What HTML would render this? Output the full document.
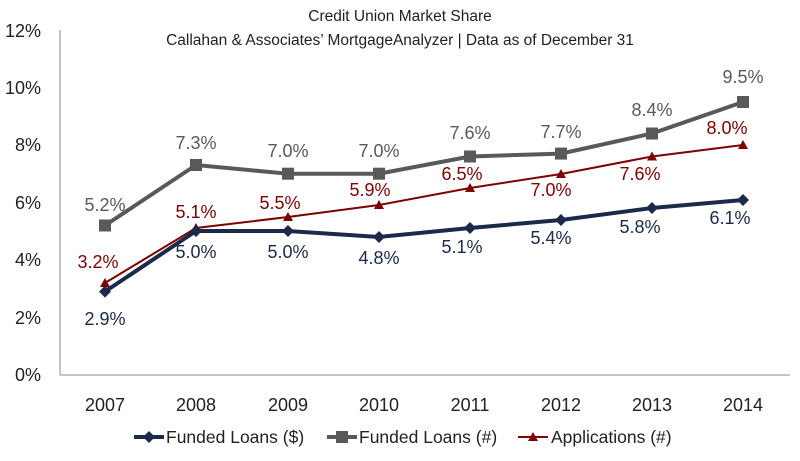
<!DOCTYPE html>
<html><head><meta charset="utf-8"><style>
body{margin:0;background:#fff;}
svg text{font-family:"Liberation Sans",sans-serif;}
</style></head><body>
<svg width="800" height="456" viewBox="0 0 800 456" xmlns="http://www.w3.org/2000/svg">
<rect width="800" height="456" fill="#fff"/>
<text x="400" y="21" font-size="15.5" text-anchor="middle" fill="#222">Credit Union Market Share</text>
<text x="400" y="45" font-size="15.5" text-anchor="middle" fill="#222">Callahan &amp; Associates’ MortgageAnalyzer  |  Data as of December 31</text>
<g font-size="18" fill="#222" text-anchor="end">
<text x="41" y="37">12%</text><text x="41" y="94">10%</text><text x="41" y="151">8%</text>
<text x="41" y="209">6%</text><text x="41" y="266">4%</text><text x="41" y="324">2%</text><text x="41" y="381">0%</text>
</g>
<line x1="60" y1="30" x2="60" y2="375" stroke="#888" stroke-width="1"/>
<line x1="60" y1="375" x2="790" y2="375" stroke="#888" stroke-width="1"/>
<g font-size="18" fill="#222" text-anchor="middle">
<text x="105" y="411">2007</text><text x="196" y="411">2008</text><text x="288" y="411">2009</text><text x="379" y="411">2010</text>
<text x="470" y="411">2011</text><text x="561" y="411">2012</text><text x="652" y="411">2013</text><text x="743" y="411">2014</text>
</g>
<!-- Funded # -->
<polyline fill="none" stroke="#595959" stroke-width="4" points="105,225.5 196,165 288,173.7 379,173.7 470,156.5 561,153.6 652,133.5 743,102"/>
<g fill="#595959">
<rect x="99" y="219.5" width="12" height="12"/><rect x="190" y="159" width="12" height="12"/><rect x="282" y="167.7" width="12" height="12"/><rect x="373" y="167.7" width="12" height="12"/>
<rect x="464" y="150.5" width="12" height="12"/><rect x="555" y="147.6" width="12" height="12"/><rect x="646" y="127.5" width="12" height="12"/><rect x="737" y="96" width="12" height="12"/>
</g>
<g font-size="18" fill="#595959" text-anchor="middle">
<text x="105" y="211">5.2%</text><text x="196" y="149">7.3%</text><text x="288" y="157">7.0%</text><text x="379" y="157">7.0%</text>
<text x="470" y="139">7.6%</text><text x="561" y="138">7.7%</text><text x="652" y="116">8.4%</text><text x="743" y="83">9.5%</text>
</g>
<!-- Applications -->
<polyline fill="none" stroke="#7f0000" stroke-width="2" points="105,283 196,228 288,217 379,205 470,188 561,174 652,156.5 743,145"/>
<g fill="#7f0000">
<polygon points="105,278 110,287 100,287"/><polygon points="196,223 201,232 191,232"/><polygon points="288,212 293,221 283,221"/><polygon points="379,200 384,209 374,209"/>
<polygon points="470,183 475,192 465,192"/><polygon points="561,169 566,178 556,178"/><polygon points="652,151.5 657,160.5 647,160.5"/><polygon points="743,140 748,149 738,149"/>
</g>
<g font-size="18" fill="#7f0000" text-anchor="middle">
<text x="98" y="268">3.2%</text><text x="196" y="218">5.1%</text><text x="280" y="209">5.5%</text><text x="370" y="196">5.9%</text>
<text x="462" y="180">6.5%</text><text x="551" y="196">7.0%</text><text x="640" y="180">7.6%</text><text x="727" y="134">8.0%</text>
</g>
<!-- Funded $ -->
<polyline fill="none" stroke="#1b2a4a" stroke-width="4" points="105,291.6 196,231 288,231 379,237 470,228 561,220 652,208 743,200"/>
<g fill="#1b2a4a">
<polygon points="105,285.6 111,291.6 105,297.6 99,291.6"/><polygon points="196,225 202,231 196,237 190,231"/><polygon points="288,225 294,231 288,237 282,231"/><polygon points="379,231 385,237 379,243 373,237"/>
<polygon points="470,222 476,228 470,234 464,228"/><polygon points="561,214 567,220 561,226 555,220"/><polygon points="652,202 658,208 652,214 646,208"/><polygon points="743,194 749,200 743,206 737,200"/>
</g>
<g font-size="18" fill="#1b2a4a" text-anchor="middle">
<text x="105" y="325">2.9%</text><text x="196" y="258">5.0%</text><text x="288" y="258">5.0%</text><text x="379" y="264">4.8%</text>
<text x="462" y="253">5.1%</text><text x="551" y="244">5.4%</text><text x="640" y="233">5.8%</text><text x="730" y="224">6.1%</text>
</g>
<!-- Legend -->
<line x1="134" y1="437" x2="164" y2="437" stroke="#1b2a4a" stroke-width="4"/>
<polygon points="149,431 155,437 149,443 143,437" fill="#1b2a4a"/>
<text x="166" y="443" font-size="17.5" fill="#222">Funded Loans ($)</text>
<line x1="327" y1="437" x2="357" y2="437" stroke="#595959" stroke-width="4"/>
<rect x="336" y="431" width="12" height="12" fill="#595959"/>
<text x="359" y="443" font-size="17.5" fill="#222">Funded Loans (#)</text>
<line x1="518" y1="437" x2="548" y2="437" stroke="#7f0000" stroke-width="2"/>
<polygon points="533,432 538,441 528,441" fill="#7f0000"/>
<text x="551" y="443" font-size="17.5" fill="#222">Applications (#)</text>
</svg>
</body></html>
